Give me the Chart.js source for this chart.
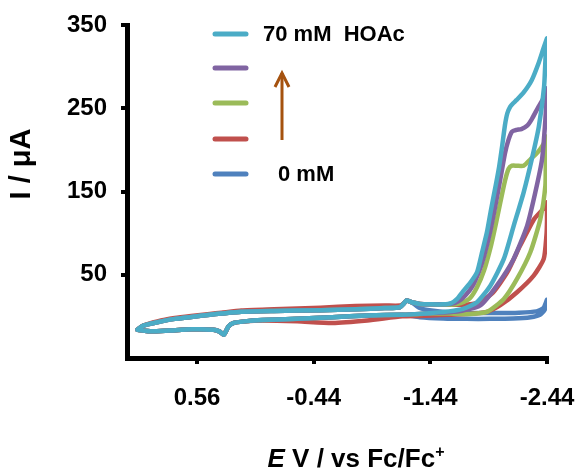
<!DOCTYPE html>
<html>
<head>
<meta charset="utf-8">
<script src="https://cdn.jsdelivr.net/npm/chart.js@4.4.1/dist/chart.umd.min.js"></script>
<style>
  html, body { margin: 0; padding: 0; background: #fff; }
  #wrap { width: 580px; height: 469px; }
</style>
</head>
<body>
<div id="wrap"><canvas id="cv-chart"></canvas></div>
<script>
// potentials in V vs Fc/Fc+, currents in uA

// shared baseline, forward scan (left end -> -1.28 V)
var baseFwdE = [1.07, 1.02, 0.9, 0.75, 0.61, 0.45, 0.35, 0.18, -0.1, -0.5, -0.8, -1.05, -1.18, -1.21, -1.235, -1.28];
var baseFwdI = [-16, -11, -7, -3, -0.7, 2, 3.4, 5.5, 6.5, 7.5, 8.5, 10, 11, 15, 19, 17];
var redFwdI  = [-16, -11, -6, -2, 0.5, 3, 4.5, 7, 8.5, 10.5, 12.5, 13, 13, 15.5, 19, 17];

// shared baseline, reverse scan (-1.2 V -> left end)
var baseRevE = [-1.2, -0.9, -0.6, -0.3, 0.0, 0.15, 0.25, 0.29, 0.33, 0.37, 0.42, 0.6, 0.8, 0.95, 1.07];
var baseRevI = [2, 1, -1, -3, -4.5, -6, -8, -12, -22, -18, -16, -15.5, -17, -18, -16];
var redRevI  = [0, -5, -8, -6, -5, -6, -8, -12, -22, -18, -16, -15.5, -17, -18, -16];

// catalytic wave, 70 mM
var cyanFwdE = [-1.35, -1.45, -1.55, -1.62, -1.67, -1.72, -1.78, -1.84, -1.88, -1.925, -1.96, -2.0, -2.03, -2.055, -2.08, -2.1, -2.125, -2.15, -2.18, -2.24, -2.31, -2.37, -2.41, -2.44];
var cyanFwdI = [15, 14.5, 14.5, 16, 21, 30, 40, 53, 75, 101, 128, 157, 180, 204, 230, 244, 252, 256, 260, 269, 284, 305, 322, 334];
var cyanRevE = [-2.44, -2.43, -2.415, -2.37, -2.31, -2.24, -2.155, -2.07, -1.955, -1.84, -1.72, -1.6, -1.45, -1.35];
var cyanRevI = [334, 318, 276, 228, 189, 149, 109, 69, 37, 17, 9, 6, 4, 3];

var purpleFwdE = [-1.35, -1.45, -1.55, -1.62, -1.68, -1.74, -1.8, -1.86, -1.9, -1.95, -2.0, -2.04, -2.08, -2.11, -2.14, -2.18, -2.22, -2.27, -2.31, -2.36, -2.41, -2.44];
var purpleFwdI = [15, 14.5, 14.5, 15, 18, 25, 36, 55, 72, 100, 135, 165, 196, 212, 222, 224, 225, 229, 237, 250, 262, 274];
var purpleRevE = [-2.44, -2.426, -2.398, -2.34, -2.27, -2.154, -2.01, -1.867, -1.72, -1.6, -1.45, -1.35];
var purpleRevI = [274, 236, 189, 149, 109, 69, 37, 13, 7, 5, 4, 3];

var greenFwdE = [-1.35, -1.45, -1.55, -1.62, -1.7, -1.78, -1.84, -1.9, -1.96, -2.0, -2.04, -2.08, -2.11, -2.14, -2.18, -2.24, -2.3, -2.36, -2.41, -2.44];
var greenFwdI = [15, 14.5, 14, 14, 16, 22, 35, 55, 85, 110, 137, 163, 177, 181, 181, 181, 189, 197, 207, 216];
var greenRevE = [-2.44, -2.43, -2.426, -2.383, -2.297, -2.183, -2.07, -1.925, -1.78, -1.6, -1.45, -1.35];
var greenRevI = [216, 190, 157, 117, 77, 45, 21, 5.4, 3, 3.5, 3.5, 3];

var redFwdE = [-1.35, -1.45, -1.55, -1.62, -1.72, -1.8, -1.87, -1.98, -2.1, -2.21, -2.33, -2.4, -2.44];
var redWaveFwdI = [15, 14.5, 14.5, 14, 14, 15, 17.4, 29, 53, 85, 117, 128, 137];
var redRevE = [-2.44, -2.435, -2.412, -2.326, -2.183, -2.04, -1.925, -1.78, -1.6, -1.45, -1.35];
var redWaveRevI = [115, 97, 69, 49, 29, 13.4, 5.4, 3, 2, 1, 0.5];

// 0 mM
var blueFwdE = [-1.35, -1.45, -1.6, -1.8, -2.0, -2.2, -2.35, -2.41, -2.44];
var blueFwdI = [10, 7, 5, 4, 4, 4.5, 6, 10, 20];
var blueRevE = [-2.44, -2.42, -2.38, -2.3, -2.15, -1.95, -1.75, -1.55, -1.35];
var blueRevI = [20, 8, 2, -1, -2.6, -3, -3, -2.5, -1];

var xTicks = [0.56, -0.44, -1.44, -2.44];
var yTicks = [50, 150, 250, 350];
var legendTexts = ['70 mM  HOAc', '', '', '', '0 mM'];

function pts(es, is) {
    var out = [];
    for (var i = 0; i < es.length; i++) out.push({x: es[i], y: is[i]});
    return out;
}

function loop(fwdI, wFE, wFI, wRE, wRI, revI) {
    return pts(baseFwdE, fwdI).concat(pts(wFE, wFI), pts(wRE, wRI), pts(baseRevE, revI));
}

function ds(label, color, data) {
    return {
        label: label,
        data: data,
        borderColor: color,
        backgroundColor: color,
        borderWidth: 4.5,
        pointRadius: 0,
        tension: 0.2,
        fill: false,
        borderCapStyle: 'round',
        borderJoinStyle: 'round'
    };
}

var colors = ['#4BACC6', '#8064A2', '#9BBB59', '#C0504D', '#4F81BD'];

var extras = {
    id: 'extras',
    afterDraw: function (chart) {
        var c = chart.ctx;
        c.save();
        // legend swatches
        var ly = [34, 68, 103, 139, 174];
        for (var i = 0; i < colors.length; i++) {
            c.strokeStyle = colors[i];
            c.lineWidth = 5;
            c.lineCap = 'round';
            c.beginPath();
            c.moveTo(215, ly[i]);
            c.lineTo(246, ly[i]);
            c.stroke();
        }
        c.fillStyle = '#000';
        c.font = 'bold 22px "Liberation Sans", Arial, sans-serif';
        c.textBaseline = 'middle';
        c.textAlign = 'left';
        c.fillText(legendTexts[0], 263, ly[0] + 1);
        c.fillText(legendTexts[4], 278, ly[4] + 1);

        // arrow
        c.strokeStyle = '#A5520F';
        c.lineWidth = 3;
        c.lineCap = 'butt';
        c.beginPath();
        c.moveTo(282, 140);
        c.lineTo(282, 73);
        c.stroke();
        c.beginPath();
        c.moveTo(275, 87);
        c.lineTo(282, 73);
        c.lineTo(289, 87);
        c.stroke();

        // y title
        c.fillStyle = '#000';
        c.save();
        c.translate(22, 164);
        c.rotate(-Math.PI / 2);
        c.font = 'bold 29px "Liberation Sans", Arial, sans-serif';
        c.textAlign = 'center';
        c.textBaseline = 'middle';
        c.fillText('I / \u03bcA', 0, 0);
        c.restore();

        // x title
        var f1 = 'italic bold 26px "Liberation Sans", Arial, sans-serif';
        var f2 = 'bold 26px "Liberation Sans", Arial, sans-serif';
        var f3 = 'bold 16px "Liberation Sans", Arial, sans-serif';
        var parts = [['E', f1, 0], [' V / vs Fc/Fc', f2, 0], ['+', f3, -10]];
        var w = 0;
        parts.forEach(function (p) { c.font = p[1]; w += c.measureText(p[0]).width; });
        var x = 356 - w / 2;
        c.textAlign = 'left';
        c.textBaseline = 'alphabetic';
        parts.forEach(function (p) {
            c.font = p[1];
            c.fillText(p[0], x, 467 + p[2]);
            x += c.measureText(p[0]).width;
        });
        c.restore();
    }
};

var ctx = document.getElementById('cv-chart');
var cvChart = new Chart(ctx, {
    type: 'line',
    data: {
        datasets: [
            ds('70 mM HOAc', colors[0], loop(baseFwdI, cyanFwdE, cyanFwdI, cyanRevE, cyanRevI, baseRevI)),
            ds('', colors[1], loop(baseFwdI, purpleFwdE, purpleFwdI, purpleRevE, purpleRevI, baseRevI)),
            ds('', colors[2], loop(baseFwdI, greenFwdE, greenFwdI, greenRevE, greenRevI, baseRevI)),
            ds('', colors[3], loop(redFwdI, redFwdE, redWaveFwdI, redRevE, redWaveRevI, redRevI)),
            ds('0 mM', colors[4], loop(baseFwdI, blueFwdE, blueFwdI, blueRevE, blueRevI, baseRevI))
        ]
    },
    options: {
        responsive: true,
        maintainAspectRatio: false,
        animation: false,
        layout: {padding: {left: 0, right: 33, top: 25, bottom: 0}},
        plugins: {legend: {display: false}, tooltip: {enabled: false}},
        scales: {
            x: {
                type: 'linear',
                reverse: true,
                min: -2.44,
                max: 1.16,
                afterBuildTicks: function (s) { s.ticks = xTicks.map(function (v) { return {value: v}; }); },
                afterFit: function (s) { s.height = 111; s.paddingRight = 0; s.paddingLeft = 0; },
                border: {display: true, color: '#000', width: 5},
                grid: {drawOnChartArea: false, drawTicks: true, tickLength: 6, lineWidth: 4, color: '#000'},
                ticks: {
                    color: '#000',
                    padding: 20,
                    maxRotation: 0,
                    font: {family: '"Liberation Sans", Arial, sans-serif', size: 24, weight: 'bold'},
                    callback: function (v) { return v.toFixed(2); }
                }
            },
            y: {
                min: -50,
                max: 350,
                afterBuildTicks: function (s) { s.ticks = yTicks.map(function (v) { return {value: v}; }); },
                afterFit: function (s) { s.width = 127; s.paddingTop = 0; s.paddingBottom = 0; },
                border: {display: true, color: '#000', width: 5},
                grid: {drawOnChartArea: false, drawTicks: true, tickLength: 6, lineWidth: 4, color: '#000'},
                ticks: {
                    color: '#000',
                    padding: 14,
                    font: {family: '"Liberation Sans", Arial, sans-serif', size: 24, weight: 'bold'}
                }
            }
        }
    },
    plugins: [extras]
});
</script>
</body>
</html>
